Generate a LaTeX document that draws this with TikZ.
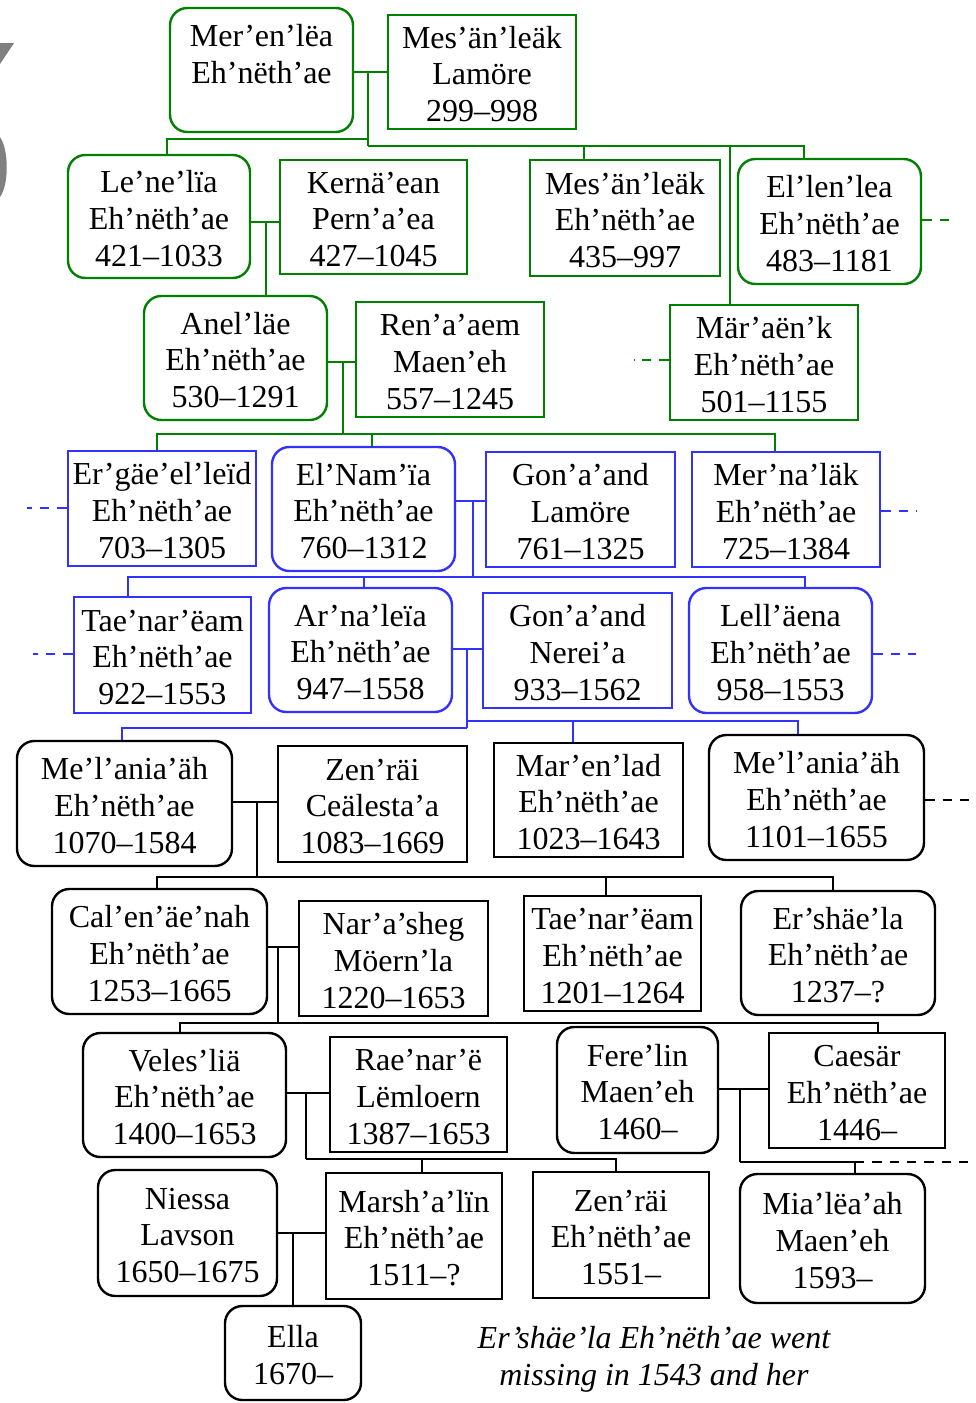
\documentclass[tikz,border=0pt]{standalone}
\usepackage{fontspec}
\setmainfont{Liberation Serif}
\definecolor{tgreen}{RGB}{0,128,0}
\definecolor{tblue}{RGB}{50,50,255}
\definecolor{tgray}{RGB}{128,128,128}
\newcommand\fbx[7]{\node[#1, minimum width={(#5-#3)*0.75pt}, minimum height={(#6-#4)*0.75pt}] (#2) at ({(#3+#5)/2},{(#4+#6)/2}) {\rule{0pt}{19.5pt}#7};}
\begin{document}
\begin{tikzpicture}[x=0.75pt,y=-0.75pt,
  box/.style={draw, line width=1.8pt, inner sep=0pt, align=center, font=\fontsize{24}{27.5}\selectfont, fill=white},
  rbox/.style={box, rounded corners=13pt},
  gc/.style={draw=tgreen}, bc/.style={draw=tblue}, kc/.style={draw=black},
  link/.style={line width=1.8pt},
  gl/.style={link, draw=tgreen}, bl/.style={link, draw=tblue}, kl/.style={link, draw=black},
  dsh/.style={dash pattern=on 7pt off 6pt}]
\useasboundingbox (0,0) rectangle (975,1403);
% gray partial glyph at left edge
\fill[tgray] (0,43) -- (14,43) -- (0,64) -- cycle;
\fill[tgray] (0,137) .. controls (9,150) and (9,185) .. (0,197) -- cycle;

% ---------- junction coordinates ----------
\coordinate (m0) at (368,72);
\coordinate (m0l) at (368,139);
\coordinate (m0r) at (368,146);
\coordinate (m1) at (266,222);
\coordinate (m2) at (343,362);
\coordinate (m2b) at (343,434);
\coordinate (m3) at (473,501);
\coordinate (m3b) at (473,577);
\coordinate (m4) at (467,649);
\coordinate (m4l) at (467,728);
\coordinate (m4r) at (467,721);
\coordinate (m5) at (257,802);
\coordinate (m5b) at (257,877);
\coordinate (m6) at (278,947);
\coordinate (m6b) at (278,1023);
\coordinate (m7) at (306,1093);
\coordinate (m7b) at (306,1159);
\coordinate (m8) at (740,1089);
\coordinate (m8b) at (740,1162);
\coordinate (m8c) at (855,1162);
\coordinate (m9) at (293,1233);

% ---------- boxes ----------
\fbx{rbox,gc}{mer}{170}{8}{353}{132}{Mer’en’lëa\\Eh’nëth’ae\\\mbox{}}
\fbx{box,gc}{mesL}{388}{15}{576}{129}{Mes’än’leäk\\Lamöre\\299–998}
\fbx{rbox,gc}{lene}{68}{155}{250}{278}{Le’ne’lïa\\Eh’nëth’ae\\421–1033}
\fbx{box,gc}{kern}{280}{160}{467}{274}{Kernä’ean\\Pern’a’ea\\427–1045}
\fbx{box,gc}{mesE}{530}{160}{720}{276}{Mes’än’leäk\\Eh’nëth’ae\\435–997}
\fbx{rbox,gc}{ellen}{738}{159}{921}{284}{El’len’lea\\Eh’nëth’ae\\483–1181}
\fbx{rbox,gc}{anel}{144}{296}{327}{420}{Anel’läe\\Eh’nëth’ae\\530–1291}
\fbx{box,gc}{ren}{356}{302}{544}{417}{Ren’a’aem\\Maen’eh\\557–1245}
\fbx{box,gc}{marak}{670}{305}{858}{420}{Mär’aën’k\\Eh’nëth’ae\\501–1155}

\fbx{box,bc}{ergae}{68}{451}{256}{566}{Er’gäe’el’leïd\\Eh’nëth’ae\\703–1305}
\fbx{rbox,bc}{elnam}{272}{447}{455}{571}{El’Nam’ïa\\Eh’nëth’ae\\760–1312}
\fbx{box,bc}{gonL}{486}{452}{675}{567}{Gon’a’and\\Lamöre\\761–1325}
\fbx{box,bc}{merna}{692}{452}{880}{567}{Mer’na’läk\\Eh’nëth’ae\\725–1384}
\fbx{box,bc}{taeA}{74}{597}{251}{713}{Tae’nar’ëam\\Eh’nëth’ae\\922–1553}
\fbx{rbox,bc}{arna}{269}{588}{452}{712}{Ar’na’leïa\\Eh’nëth’ae\\947–1558}
\fbx{box,bc}{gonN}{483}{593}{672}{708}{Gon’a’and\\Nerei’a\\933–1562}
\fbx{rbox,bc}{lell}{689}{588}{872}{713}{Lell’äena\\Eh’nëth’ae\\958–1553}

\fbx{rbox,kc}{melA}{17}{741}{232}{866}{Me’l’ania’äh\\Eh’nëth’ae\\1070–1584}
\fbx{box,kc}{zenC}{278}{746}{467}{862}{Zen’räi\\Ceälesta’a\\1083–1669}
\fbx{box,kc}{maren}{494}{743}{683}{857}{Mar’en’lad\\Eh’nëth’ae\\1023–1643}
\fbx{rbox,kc}{melB}{709}{735}{924}{860}{Me’l’ania’äh\\Eh’nëth’ae\\1101–1655}
\fbx{rbox,kc}{calen}{52}{889}{267}{1014}{Cal’en’äe’nah\\Eh’nëth’ae\\1253–1665}
\fbx{box,kc}{nara}{299}{901}{488}{1016}{Nar’a’sheg\\Möern’la\\1220–1653}
\fbx{box,kc}{taeB}{524}{896}{701}{1011}{Tae’nar’ëam\\Eh’nëth’ae\\1201–1264}
\fbx{rbox,kc}{ersh}{741}{891}{935}{1015}{Er’shäe’la\\Eh’nëth’ae\\1237–?}
\fbx{rbox,kc}{veles}{83}{1033}{286}{1157}{Veles’liä\\Eh’nëth’ae\\1400–1653}
\fbx{box,kc}{rae}{330}{1037}{507}{1152}{Rae’nar’ë\\Lëmloern\\1387–1653}
\fbx{rbox,kc}{fere}{557}{1027}{718}{1153}{Fere’lin\\Maen’eh\\1460–}
\fbx{box,kc}{caes}{769}{1033}{945}{1148}{Caesär\\Eh’nëth’ae\\1446–}
\fbx{rbox,kc}{niessa}{98}{1170}{277}{1296}{Niessa\\Lavson\\1650–1675}
\fbx{box,kc}{marsh}{326}{1173}{502}{1299}{Marsh’a’lïn\\Eh’nëth’ae\\1511–?}
\fbx{box,kc}{zenE}{533}{1172}{709}{1298}{Zen’räi\\Eh’nëth’ae\\1551–}
\fbx{rbox,kc}{mia}{740}{1174}{925}{1303}{Mia’lëa’ah\\Maen’eh\\1593–}
\fbx{rbox,kc}{ella}{225}{1306}{361}{1400}{Ella\\1670–}

\node[font=\fontsize{24}{27.5}\selectfont\itshape, align=center, inner sep=0pt] (note) at (654,1359) {Er’shäe’la Eh’nëth’ae went\\missing in 1543 and her};

% ---------- green links ----------
\draw[gl] (mer.east |- m0) -- (mesL.west |- m0);
\draw[gl] (m0) -- (m0r);
\draw[gl] (m0l) -| (lene.north -| 167,0);
\draw[gl] (m0r) -| (ellen.north -| 804,0);
\draw[gl] (mesE.north -| 584,0) -- (m0r -| 584,0);
\draw[gl] (marak.north -| 730,0) -- (m0r -| 730,0);
\draw[gl] (lene.east |- m1) -- (kern.west |- m1);
\draw[gl] (m1) -- (anel.north -| m1);
\draw[gl] (anel.east |- m2) -- (ren.west |- m2);
\draw[gl] (m2) -- (m2b);
\draw[gl] (m2b) -| (ergae.north -| 157,0);
\draw[gl] (m2b) -| (merna.north -| 775,0);
\draw[gl] (elnam.north -| 372,0) -- (m2b -| 372,0);
\draw[gl,dsh] (ellen.east |- 0,220) -- (953,220);
\draw[gl,dsh] (marak.west |- 0,360) -- (634,360);
% ---------- blue links ----------
\draw[bl,dsh] (ergae.west |- 0,508) -- (27,508);
\draw[bl,dsh] (merna.east |- 0,511) -- (917,511);
\draw[bl,dsh] (taeA.west |- 0,654) -- (33,654);
\draw[bl,dsh] (lell.east |- 0,654) -- (916,654);
\draw[bl] (elnam.east |- m3) -- (gonL.west |- m3);
\draw[bl] (m3) -- (m3b);
\draw[bl] (m3b) -| (taeA.north -| 128,0);
\draw[bl] (m3b) -| (lell.north -| 805,0);
\draw[bl] (arna.north -| 364,0) -- (m3b -| 364,0);
\draw[bl] (arna.east |- m4) -- (gonN.west |- m4);
\draw[bl] (m4) -- (m4l);
\draw[bl] (m4l) -| (melA.north -| 122,0);
\draw[bl] (m4r) -| (melB.north -| 798,0);
\draw[bl] (maren.north -| 573,0) -- (m4r -| 573,0);
% ---------- black links ----------
\draw[kl] (melA.east |- m5) -- (zenC.west |- m5);
\draw[kl] (m5) -- (m5b);
\draw[kl] (m5b) -| (calen.north -| 157,0);
\draw[kl] (m5b) -| (ersh.north -| 833,0);
\draw[kl] (taeB.north -| 606,0) -- (m5b -| 606,0);
\draw[kl,dsh] (melB.east |- 0,800) -- (975,800);
\draw[kl] (calen.east |- m6) -- (nara.west |- m6);
\draw[kl] (m6) -- (m6b);
\draw[kl] (m6b) -| (veles.north -| 180,0);
\draw[kl] (m6b) -| (caes.north -| 878,0);
\draw[kl] (veles.east |- m7) -- (rae.west |- m7);
\draw[kl] (m7) -- (m7b);
\draw[kl] (m7b) -| (zenE.north -| 616,0);
\draw[kl] (marsh.north -| 422,0) -- (m7b -| 422,0);
\draw[kl] (fere.east |- m8) -- (caes.west |- m8);
\draw[kl] (m8) -- (m8b);
\draw[kl] (m8b) -| (mia.north -| m8c);
\draw[kl,dsh] (m8c) -- (975,1162);
\draw[kl] (niessa.east |- m9) -- (marsh.west |- m9);
\draw[kl] (m9) -- (ella.north -| m9);
\end{tikzpicture}
\end{document}
